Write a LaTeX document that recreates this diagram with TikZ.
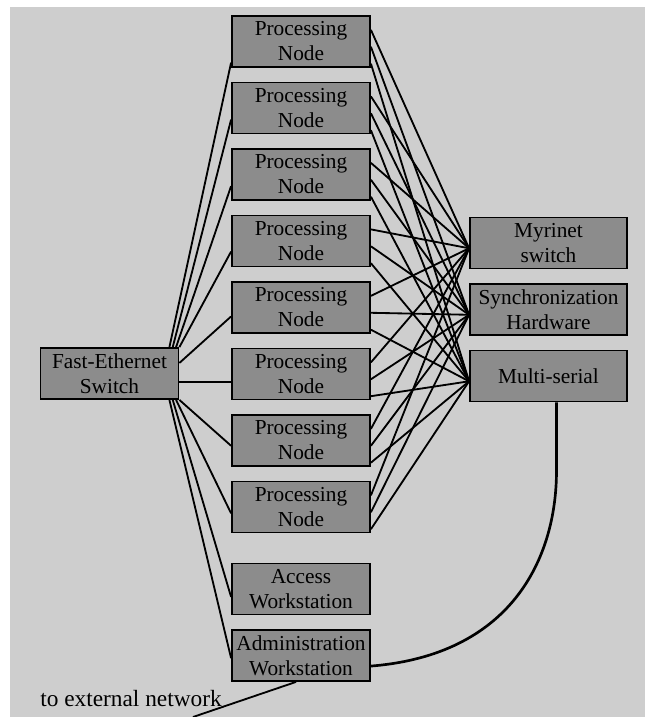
\documentclass[tikz,border=0pt]{standalone}
\usepackage{fontspec}
\setmainfont{Liberation Serif}
\usepackage{tikz}
\usetikzlibrary{positioning, calc}
\definecolor{paper}{RGB}{206,206,206}
\definecolor{boxgray}{RGB}{140,140,140}

\begin{document}
\begin{tikzpicture}[
  x=0.6pt, y=-0.6pt,
  node distance=8.2pt,
  box/.style={draw, line width=1.1pt, fill=boxgray, align=center,
              font=\fontsize{12.8}{15}\selectfont, minimum width=82.8pt,
              minimum height=30.6pt, inner xsep=1pt, inner ysep=1pt},
  dev/.style={box, minimum width=94.2pt},
  lbl/.style={font=\fontsize{14}{16}\selectfont, inner sep=0pt},
  link/.style={line width=1.1pt},
  cable/.style={line width=1.6pt}
]
% page and scanned paper
\fill[white] (0,0) rectangle (645,717);
\fill[paper] (10,7) rectangle (645,717);
\useasboundingbox (0,0) rectangle (645,717);

\node[box] (fe) at (109.5,373.5) {Fast-Ethernet\\Switch};
\node[box] (p1) at (301,41.5) {Processing\\Node};
\node[box, below=of p1] (p2) {Processing\\Node};
\node[box, below=of p2] (p3) {Processing\\Node};
\node[box, below=of p3] (p4) {Processing\\Node};
\node[box, below=of p4] (p5) {Processing\\Node};
\node[box, below=of p5] (p6) {Processing\\Node};
\node[box, below=of p6] (p7) {Processing\\Node};
\node[box, below=of p7] (p8) {Processing\\Node};
\node[box, below=17.5pt of p8] (acc) {Access\\Workstation};
\node[box, below=of acc] (adm) {Administration\\Workstation};
\node[dev] (myr) at (548.5,243) {Myrinet\\switch};
\node[dev, below=of myr] (syn) {Synchronization\\Hardware};
\node[dev, below=of syn] (mul) {Multi-serial};
\node[lbl, anchor=west] (extlbl) at (40,699) {to external network};
\coordinate (ext) at (193,717);

% fast ethernet fan
\foreach \n/\dx/\f in {p1/-6/0.9, p2/-4/0.72, p3/-2/0.72, p4/0/0.7}
  \draw[link] ([xshift=\dx pt]fe.north east) -- ($(\n.north west)!\f!(\n.south west)$);
\draw[link] ($(fe.north east)!0.3!(fe.south east)$) -- ($(p5.north west)!0.67!(p5.south west)$);
\draw[link] ($(fe.north east)!0.66!(fe.south east)$) coordinate (fe6) -- (fe6 -| p6.west);
\foreach \n/\dx/\f in {p7/0/0.6, p8/-2/0.62, acc/-4/0.65, adm/-6/0.55}
  \draw[link] ([xshift=\dx pt]fe.south east) -- ($(\n.north west)!\f!(\n.south west)$);

% every node to every device
\foreach \i in {1,...,8}
  \foreach \t/\f in {myr/0.28, syn/0.6, mul/0.92}
    \draw[link] ($(p\i.north east)!\f!(p\i.south east)$) -- ($(\t.north west)!0.6!(\t.south west)$);

% serial line and outside link
\coordinate (bend) at ($(mul.south)+(8,68)$);
\draw[cable] ($(adm.north east)!0.7!(adm.south east)$) .. controls (510,655) and (556.5,560) .. (bend) -- (bend |- mul.south);
\draw[link] ([xshift=-3pt]adm.south) -- (ext);
\end{tikzpicture}
\end{document}
